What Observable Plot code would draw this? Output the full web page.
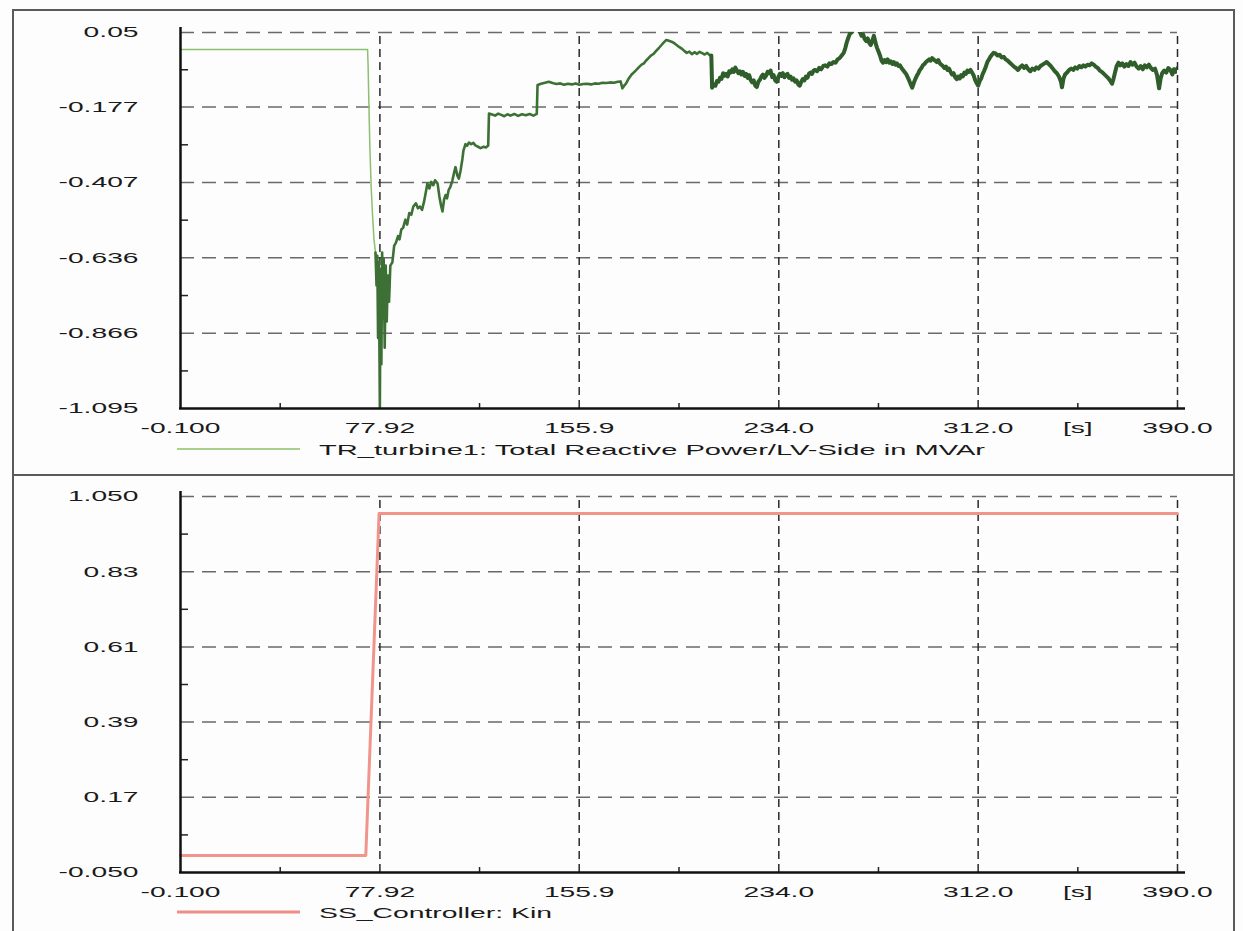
<!DOCTYPE html>
<html><head><meta charset="utf-8">
<script src="https://cdn.jsdelivr.net/npm/d3@7"></script>
<script src="https://cdn.jsdelivr.net/npm/@observablehq/plot@0.6"></script>
<style>
body{margin:0;background:#fff;}
#page{position:relative;width:1243px;height:931px;background:#fdfdfd;overflow:hidden;font-family:"Liberation Sans",Arial,sans-serif;}
#frame{position:absolute;left:12px;top:9px;width:1223px;height:940px;border:2px solid #5a5a5a;border-bottom:none;box-sizing:border-box}
#divider{position:absolute;left:12px;top:474px;width:1223px;height:2px;background:#5a5a5a}
.panel{position:absolute;left:0;}
</style></head>
<body><div id="page"><div id="frame"></div><div id="divider"></div><div id="top" class="panel" style="top:0"></div><div id="bottom" class="panel" style="top:475px"></div></div>
<script>
// ---------- data ----------
const xTicks = [-0.1, 77.92, 155.9, 234.0, 312.0, 351.0, 390.0];
const xTickLabels = ["-0.100", "77.92", "155.9", "234.0", "312.0", "[s]", "390.0"];
const xGrid = [77.92, 155.9, 234.0, 312.0, 390.0];
const xMinor = [38.91, 116.91, 194.95, 273.0, 351.0];

const yTicksTop = [0.05, -0.177, -0.407, -0.636, -0.866, -1.095];
const yTickLabelsTop = ["0.05", "-0.177", "-0.407", "-0.636", "-0.866", "-1.095"];
const yMinorTop = [-0.0635, -0.292, -0.5215, -0.751, -0.9805];

const yTicksBottom = [1.05, 0.83, 0.61, 0.39, 0.17, -0.05];
const yTickLabelsBottom = ["1.050", "0.83", "0.61", "0.39", "0.17", "-0.050"];
const yMinorBottom = [0.94, 0.72, 0.50, 0.28, 0.06];

const legendTop = "TR_turbine1: Total Reactive Power/LV-Side in MVAr";
const legendBottom = "SS_Controller: Kin";

// [time s, reactive power MVAr]
const reactiveSeries = [
[-0.1,-0.002],[73.1,-0.002],[73.3,-0.05],[73.7,-0.20],[74.0,-0.30],[74.5,-0.42],[75.0,-0.50],[75.6,-0.58],[76.2,-0.62],
[76.6,-0.72],[76.9,-0.63],[77.2,-0.88],[77.5,-0.65],[77.9,-1.09],[78.2,-0.67],[78.5,-0.96],[78.8,-0.62],[79.1,-0.82],
[79.4,-0.64],[79.8,-0.91],[80.2,-0.66],[80.6,-0.83],[81.0,-0.69],[81.5,-0.77],[82.0,-0.66],[82.8,-0.65],[83.5,-0.60],
[84.2,-0.59],[85.0,-0.57],[85.6,-0.58],[86.3,-0.55],[87.0,-0.545],[87.9,-0.52],[88.6,-0.535],[89.4,-0.50],[90.2,-0.505],
[91.0,-0.48],[92.0,-0.47],[92.8,-0.485],[93.6,-0.48],[94.4,-0.49],[95.2,-0.465],[95.8,-0.44],[96.5,-0.41],[97.3,-0.425],
[98.0,-0.405],[98.8,-0.415],[99.5,-0.40],[100.5,-0.41],[101.2,-0.45],[101.8,-0.475],[102.4,-0.495],[103.0,-0.46],
[103.6,-0.445],[104.2,-0.455],[104.8,-0.43],[105.5,-0.42],[106.3,-0.40],[107.0,-0.375],[107.5,-0.36],[108.2,-0.385],
[108.8,-0.395],[109.5,-0.37],[110.2,-0.335],[110.6,-0.31],[111.4,-0.29],[112.0,-0.295],[112.8,-0.285],[113.6,-0.29],
[114.5,-0.286],[115.3,-0.294],[116.3,-0.298],[117.3,-0.302],[118.5,-0.298],[119.4,-0.300],[120.3,-0.294],[120.6,-0.197],
[121.8,-0.200],[123.0,-0.203],[124.2,-0.197],[125.4,-0.201],[126.6,-0.205],[127.8,-0.199],[129.0,-0.203],[130.5,-0.198],
[132.0,-0.204],[133.5,-0.199],[135.0,-0.202],[136.5,-0.198],[138.0,-0.203],[139.3,-0.198],[139.6,-0.110],[141.0,-0.106],
[142.5,-0.103],[144.0,-0.100],[145.5,-0.104],[147.0,-0.107],[148.5,-0.105],[150.0,-0.109],[151.5,-0.106],[153.0,-0.108],
[154.5,-0.105],[156.0,-0.109],[157.5,-0.107],[159.0,-0.106],[160.5,-0.108],[162.0,-0.105],[163.5,-0.106],[165.0,-0.103],
[166.5,-0.104],[168.0,-0.102],[169.5,-0.103],[171.0,-0.100],[172.1,-0.099],[172.8,-0.120],[173.5,-0.112],[174.2,-0.106],
[175.3,-0.090],[176.4,-0.078],[177.2,-0.072],[178.0,-0.066],[179.0,-0.058],[180.3,-0.048],[181.2,-0.044],[182.0,-0.036],
[183.0,-0.028],[184.0,-0.020],[185.0,-0.015],[186.0,-0.006],[187.0,0.002],[188.1,0.012],[189.0,0.020],[190.0,0.027],
[191.0,0.025],[192.0,0.022],[193.0,0.018],[194.0,0.012],[195.0,0.006],[196.0,0.001],[197.0,-0.006],[198.0,-0.012],
[199.0,-0.008],[200.0,-0.016],[201.0,-0.010],[202.0,-0.015],[203.0,-0.009],[204.0,-0.013],[205.0,-0.017],[206.0,-0.012],
[207.0,-0.019],[207.6,-0.020],[207.9,-0.118],[208.5,-0.108],[209.2,-0.112],[209.8,-0.098],[210.4,-0.100],[211.0,-0.088],
[211.6,-0.091],[212.2,-0.074],[212.8,-0.082],[213.4,-0.076],[214.0,-0.084],[214.6,-0.068],[215.2,-0.072],[215.8,-0.062],
[216.4,-0.070],[217.0,-0.057],[217.6,-0.066],[218.2,-0.074],[218.8,-0.068],[219.4,-0.078],[220.0,-0.070],[220.6,-0.082],
[221.2,-0.076],[221.8,-0.088],[222.4,-0.080],[223.0,-0.095],[223.6,-0.102],[224.2,-0.096],[224.8,-0.112],[225.4,-0.116],
[226.0,-0.100],[226.6,-0.094],[227.2,-0.084],[227.8,-0.078],[228.4,-0.088],[229.0,-0.082],[229.6,-0.070],[230.2,-0.074],
[230.8,-0.066],[231.4,-0.086],[232.0,-0.080],[232.6,-0.096],[233.2,-0.100],[233.8,-0.086],[234.4,-0.076],[235.0,-0.082],
[235.6,-0.074],[236.2,-0.086],[236.8,-0.080],[237.4,-0.076],[238.0,-0.088],[238.6,-0.084],[239.2,-0.094],[239.8,-0.090],
[240.4,-0.100],[241.0,-0.096],[241.6,-0.108],[242.2,-0.112],[242.8,-0.100],[243.4,-0.092],[244.0,-0.096],[244.6,-0.084],
[245.2,-0.088],[245.8,-0.076],[246.4,-0.072],[247.0,-0.076],[247.6,-0.066],[248.2,-0.064],[249.0,-0.068],[249.8,-0.058],
[250.6,-0.062],[251.4,-0.052],[252.2,-0.050],[253.0,-0.054],[253.8,-0.044],[254.6,-0.046],[255.4,-0.040],[256.2,-0.042],
[257.0,-0.032],[257.8,-0.028],[258.6,-0.020],[259.4,-0.012],[260.0,0.002],[260.6,0.020],[261.2,0.034],[261.8,0.046],
[262.4,0.050],[263.2,0.058],[264.0,0.064],[265.0,0.060],[265.8,0.050],[266.4,0.040],[267.0,0.044],[267.6,0.030],
[268.2,0.024],[268.8,0.032],[269.4,0.018],[270.0,0.012],[270.6,0.026],[271.2,0.040],[271.8,0.020],[272.4,0.004],
[273.0,-0.008],[273.6,-0.020],[274.2,-0.036],[274.8,-0.042],[275.4,-0.034],[276.0,-0.040],[276.6,-0.032],[277.2,-0.042],
[277.8,-0.038],[278.4,-0.046],[279.0,-0.040],[279.6,-0.048],[280.2,-0.044],[280.8,-0.052],[281.4,-0.050],[282.0,-0.058],
[282.6,-0.064],[283.2,-0.070],[283.8,-0.076],[284.4,-0.086],[285.0,-0.096],[285.6,-0.108],[286.2,-0.118],[286.8,-0.104],
[287.4,-0.092],[288.0,-0.082],[288.6,-0.074],[289.2,-0.064],[289.8,-0.058],[290.4,-0.050],[291.0,-0.046],[291.6,-0.040],
[292.2,-0.036],[292.8,-0.032],[293.4,-0.036],[294.0,-0.028],[294.6,-0.032],[295.2,-0.036],[295.8,-0.040],[296.4,-0.034],
[297.0,-0.044],[297.6,-0.048],[298.2,-0.052],[298.8,-0.058],[299.4,-0.054],[300.0,-0.064],[300.6,-0.060],[301.2,-0.070],
[301.8,-0.078],[302.4,-0.074],[303.0,-0.086],[303.6,-0.092],[304.2,-0.084],[304.8,-0.090],[305.4,-0.080],[306.0,-0.084],
[306.6,-0.072],[307.2,-0.076],[307.8,-0.066],[308.4,-0.070],[309.0,-0.064],[309.6,-0.072],[310.2,-0.080],[310.8,-0.094],
[311.4,-0.104],[312.0,-0.112],[312.6,-0.098],[313.2,-0.090],[313.8,-0.076],[314.4,-0.066],[315.0,-0.054],[315.6,-0.040],
[316.2,-0.032],[316.8,-0.024],[317.4,-0.018],[318.0,-0.012],[318.8,-0.014],[319.6,-0.020],[320.4,-0.018],[321.2,-0.026],
[322.0,-0.024],[322.8,-0.032],[323.6,-0.036],[324.4,-0.042],[325.2,-0.048],[326.0,-0.054],[326.8,-0.058],[327.6,-0.064],
[328.4,-0.056],[329.2,-0.050],[330.0,-0.058],[330.8,-0.052],[331.6,-0.062],[332.4,-0.068],[333.2,-0.060],[334.0,-0.064],
[334.8,-0.056],[335.6,-0.060],[336.4,-0.052],[337.2,-0.048],[338.0,-0.044],[338.8,-0.040],[339.6,-0.046],[340.4,-0.052],
[341.2,-0.060],[342.0,-0.068],[342.8,-0.074],[343.6,-0.084],[344.4,-0.100],[344.8,-0.117],[345.4,-0.090],[346.0,-0.078],
[346.8,-0.072],[347.6,-0.064],[348.4,-0.060],[349.2,-0.064],[350.0,-0.056],[350.8,-0.060],[351.6,-0.052],[352.4,-0.056],
[353.2,-0.050],[354.0,-0.054],[354.8,-0.048],[355.6,-0.050],[356.4,-0.044],[357.2,-0.048],[358.0,-0.054],[358.8,-0.058],
[359.6,-0.066],[360.4,-0.070],[361.2,-0.076],[362.0,-0.082],[362.8,-0.088],[363.6,-0.096],[364.4,-0.106],[365.0,-0.090],
[365.6,-0.070],[366.2,-0.052],[366.9,-0.042],[367.6,-0.050],[368.4,-0.044],[369.2,-0.054],[370.0,-0.046],[370.8,-0.052],
[371.6,-0.040],[372.4,-0.048],[373.2,-0.042],[374.0,-0.054],[374.8,-0.060],[375.6,-0.052],[376.4,-0.062],[377.2,-0.050],
[378.0,-0.056],[378.8,-0.048],[379.6,-0.058],[380.4,-0.064],[381.2,-0.060],[382.0,-0.080],[382.8,-0.120],[383.4,-0.090],
[384.0,-0.074],[384.8,-0.066],[385.6,-0.072],[386.4,-0.058],[387.2,-0.064],[388.0,-0.078],[388.6,-0.062],[389.3,-0.070],
[390.0,-0.058]
];

// [time s, Kin]
const kinSeries = [[-0.1, 0.0], [72.4, 0.0], [77.6, 1.0], [390.0, 1.0]];

// ---------- drawing ----------
const W = 1243;
const STRETCH = 1.88;

function stretchText(svg, k) {
  svg.querySelectorAll("text").forEach(t => {
    const b = t.getBBox();
    const a = getComputedStyle(t).textAnchor;
    const ox = a === "end" ? b.x + b.width : a === "middle" ? b.x + b.width / 2 : b.x;
    const t0 = t.getAttribute("transform") || "";
    t.setAttribute("transform", `${t0} translate(${ox},0) scale(${k},1) translate(${-ox},0)`);
  });
}

function makePanel(opts) {
  const {container, height, marginTop, marginBottom, yDomain, yTicks, yLabels, yMinor, lines,
         legendText, legendColor, legendStroke, legendY, legendLen} = opts;
  const [y0, y1] = yDomain;
  const yLabelMap = new Map(yTicks.map((v, i) => [v, yLabels[i]]));
  const xLabelMap = new Map(xTicks.map((v, i) => [v, xTickLabels[i]]));
  const yPerPx = (y1 - y0) / (height - marginTop - marginBottom);
  const xPerPx = 390.1 / (W - 180 - 66);
  const svg = Plot.plot({
    width: W, height, marginLeft: 180, marginRight: 66, marginTop, marginBottom,
    style: {fontFamily: "'Liberation Sans', Arial, sans-serif", fontSize: "15px", background: "transparent", color: "#1a1a1a", overflow: "visible"},
    x: {domain: [-0.1, 390], ticks: xTicks, tickFormat: d => xLabelMap.get(d), tickSize: 0, tickPadding: 14, label: null},
    y: {domain: yDomain, ticks: yTicks, tickFormat: d => yLabelMap.get(d), tickSize: 0, tickPadding: 42, label: null},
    marks: [
      Plot.ruleY(yTicks.filter(v => v !== y0), {x1: -0.1, x2: 390, stroke: "#6a6a6a", strokeWidth: 1.5, strokeDasharray: "14,8"}),
      Plot.ruleX(xGrid, {y1: y0, y2: y1, stroke: "#2a2a2a", strokeWidth: 1.5, strokeDasharray: "8,5"}),
      Plot.ruleY(yMinor, {x1: -0.1, x2: -0.1 + 8 * xPerPx, stroke: "#222", strokeWidth: 1.5}),
      Plot.ruleX(xMinor, {y1: y0, y2: y0 + 5 * yPerPx, stroke: "#222", strokeWidth: 1.5}),
      ...lines,
      Plot.ruleX([-0.1], {y1: y0, y2: y1 + 5 * yPerPx, stroke: "#111", strokeWidth: 2.5}),
      Plot.ruleY([y0], {x1: -0.1 - 1 * xPerPx, x2: 390 + 8 * xPerPx, stroke: "#111", strokeWidth: 2.5})
    ]
  });
  container.appendChild(svg);
  stretchText(svg, STRETCH);
  const s = d3.select(svg);
  s.append("line").attr("x1", 177).attr("x2", 300).attr("y1", legendY).attr("y2", legendY)
    .attr("stroke", legendColor).attr("stroke-width", legendStroke);
  s.append("text").attr("x", 319).attr("y", legendY + 6).attr("font-size", 15)
    .attr("text-anchor", "start")
    .attr("fill", "#1a1a1a").attr("textLength", legendLen).attr("lengthAdjust", "spacingAndGlyphs")
    .text(legendText);
}

makePanel({
  container: document.getElementById("top"),
  height: 475, marginTop: 32, marginBottom: 67,
  yDomain: [-1.095, 0.05], yTicks: yTicksTop, yLabels: yTickLabelsTop, yMinor: yMinorTop,
  lines: [
    Plot.line(reactiveSeries.filter(d => d[0] <= 76.2), {x: d => d[0], y: d => d[1], stroke: "#8cbf70", strokeWidth: 1.5, clip: true}),
    Plot.line(reactiveSeries.filter(d => d[0] >= 76.2 && d[0] <= 207.9), {x: d => d[0], y: d => d[1], stroke: "#3d7035", strokeWidth: 2.6, clip: true}),
    Plot.line(reactiveSeries.filter(d => d[0] >= 207.6), {x: d => d[0], y: d => d[1], stroke: "#2f5e2b", strokeWidth: 4, strokeLinejoin: "round", clip: true})
  ],
  legendText: legendTop, legendColor: "#a9d08e", legendStroke: 2, legendY: 449, legendLen: 666
});

makePanel({
  container: document.getElementById("bottom"),
  height: 456, marginTop: 21, marginBottom: 59,
  yDomain: [-0.05, 1.05], yTicks: yTicksBottom, yLabels: yTickLabelsBottom, yMinor: yMinorBottom,
  lines: [
    Plot.line(kinSeries, {x: d => d[0], y: d => d[1], stroke: "#f0958b", strokeWidth: 3})
  ],
  legendText: legendBottom, legendColor: "#ee8f86", legendStroke: 3, legendY: 437, legendLen: 233
});
</script>
</body></html>
